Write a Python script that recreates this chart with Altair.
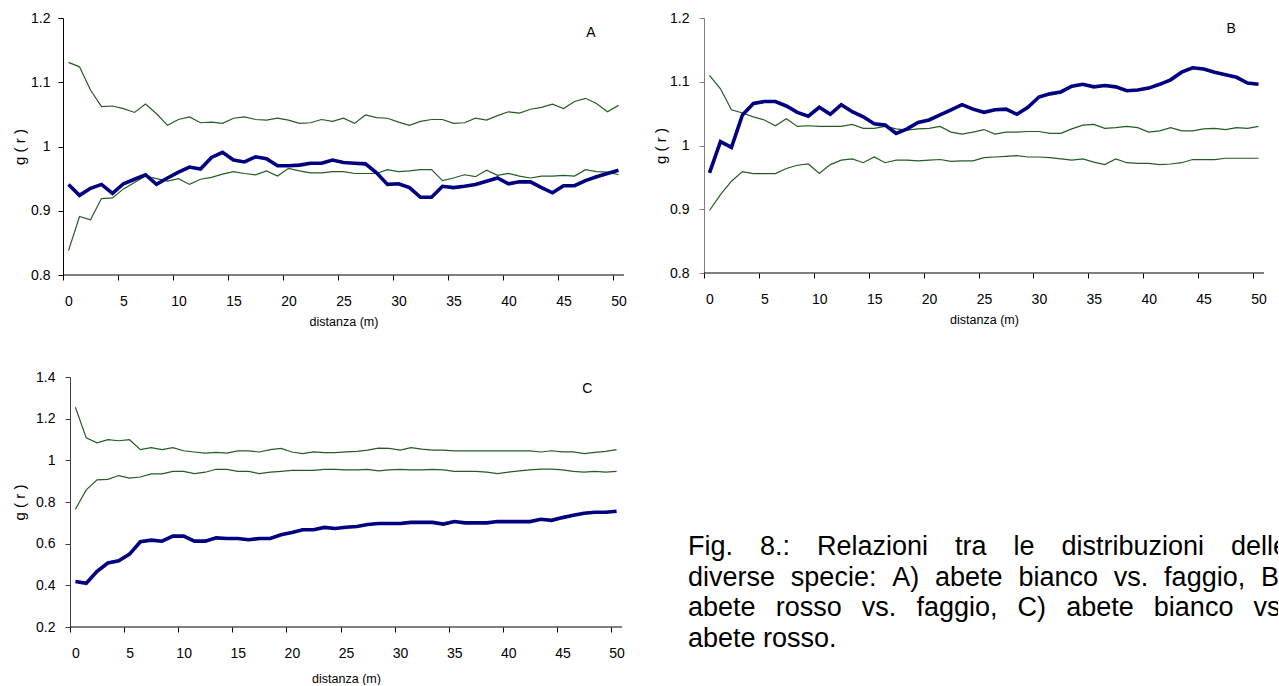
import altair as alt
import pandas as pd

# distance classes (m)
distanza = list(range(51))

# A) abete bianco vs. faggio
a_oss = [0.941, 0.924, 0.935, 0.941, 0.927, 0.942, 0.949, 0.956, 0.941, 0.951,
         0.960, 0.968, 0.965, 0.983, 0.991, 0.979, 0.976, 0.984, 0.981, 0.970,
         0.970, 0.971, 0.974, 0.974, 0.979, 0.975, 0.974, 0.973, 0.959, 0.941,
         0.942, 0.936, 0.921, 0.921, 0.938, 0.936, 0.938, 0.941, 0.946, 0.951,
         0.942, 0.945, 0.945, 0.936, 0.928, 0.939, 0.939, 0.947, 0.953, 0.958, 0.963]
a_sup = [1.131, 1.124, 1.088, 1.062, 1.063, 1.059, 1.053, 1.066, 1.051, 1.033,
         1.042, 1.046, 1.037, 1.038, 1.036, 1.044, 1.046, 1.042, 1.041, 1.044,
         1.041, 1.036, 1.037, 1.042, 1.039, 1.044, 1.036, 1.049, 1.045, 1.044,
         1.038, 1.033, 1.039, 1.042, 1.042, 1.036, 1.037, 1.044, 1.041, 1.048,
         1.054, 1.052, 1.058, 1.061, 1.066, 1.059, 1.070, 1.075, 1.067, 1.054, 1.064]
a_inf = [0.838, 0.891, 0.886, 0.919, 0.920, 0.934, 0.944, 0.954, 0.950, 0.946,
         0.950, 0.941, 0.949, 0.952, 0.957, 0.961, 0.958, 0.956, 0.962, 0.954,
         0.966, 0.962, 0.959, 0.959, 0.961, 0.961, 0.958, 0.958, 0.958, 0.964,
         0.961, 0.962, 0.964, 0.964, 0.947, 0.951, 0.956, 0.953, 0.963, 0.955,
         0.958, 0.954, 0.951, 0.954, 0.954, 0.955, 0.954, 0.964, 0.961, 0.960, 0.956]

# B) abete rosso vs. faggio
b_oss = [0.957, 1.006, 0.997, 1.048, 1.066, 1.069, 1.069, 1.062, 1.052, 1.046,
         1.060, 1.049, 1.064, 1.053, 1.045, 1.034, 1.032, 1.019, 1.026, 1.036,
         1.040, 1.048, 1.056, 1.064, 1.057, 1.052, 1.056, 1.057, 1.049, 1.060,
         1.076, 1.081, 1.084, 1.093, 1.096, 1.092, 1.094, 1.092, 1.086, 1.087,
         1.090, 1.096, 1.103, 1.115, 1.122, 1.120, 1.115, 1.111, 1.107, 1.098, 1.096]
b_sup = [1.110, 1.089, 1.056, 1.051, 1.045, 1.040, 1.031, 1.042, 1.030, 1.031,
         1.030, 1.030, 1.030, 1.033, 1.027, 1.027, 1.030, 1.026, 1.024, 1.026,
         1.027, 1.030, 1.021, 1.018, 1.021, 1.025, 1.018, 1.021, 1.021, 1.022,
         1.022, 1.019, 1.019, 1.026, 1.032, 1.033, 1.027, 1.028, 1.030, 1.028,
         1.021, 1.023, 1.028, 1.023, 1.023, 1.026, 1.027, 1.025, 1.028, 1.027, 1.030]
b_inf = [0.898, 0.923, 0.944, 0.959, 0.956, 0.956, 0.956, 0.964, 0.969, 0.971,
         0.956, 0.970, 0.977, 0.979, 0.973, 0.982, 0.973, 0.977, 0.977, 0.976,
         0.977, 0.978, 0.975, 0.976, 0.976, 0.981, 0.982, 0.983, 0.984, 0.982,
         0.982, 0.981, 0.979, 0.977, 0.979, 0.974, 0.970, 0.979, 0.973, 0.972,
         0.972, 0.970, 0.971, 0.973, 0.978, 0.978, 0.978, 0.980, 0.980, 0.980, 0.980]

# C) abete bianco vs. abete rosso
c_oss = [0.418, 0.410, 0.467, 0.507, 0.518, 0.550, 0.609, 0.617, 0.612, 0.636,
         0.636, 0.612, 0.612, 0.628, 0.625, 0.625, 0.619, 0.625, 0.625, 0.643,
         0.654, 0.667, 0.667, 0.678, 0.673, 0.679, 0.682, 0.692, 0.697, 0.697,
         0.697, 0.702, 0.702, 0.702, 0.694, 0.706, 0.700, 0.700, 0.700, 0.706,
         0.706, 0.706, 0.706, 0.717, 0.712, 0.725, 0.736, 0.746, 0.751, 0.751, 0.756]
c_sup = [1.255, 1.108, 1.084, 1.099, 1.094, 1.099, 1.051, 1.061, 1.051, 1.061,
         1.046, 1.040, 1.035, 1.038, 1.035, 1.045, 1.045, 1.040, 1.051, 1.057,
         1.040, 1.032, 1.041, 1.037, 1.037, 1.041, 1.043, 1.049, 1.059, 1.057,
         1.049, 1.061, 1.054, 1.049, 1.049, 1.045, 1.045, 1.045, 1.045, 1.045,
         1.045, 1.045, 1.045, 1.040, 1.046, 1.041, 1.041, 1.032, 1.038, 1.043, 1.051]
c_inf = [0.765, 0.858, 0.906, 0.909, 0.927, 0.915, 0.920, 0.935, 0.935, 0.947,
         0.947, 0.936, 0.943, 0.957, 0.957, 0.947, 0.947, 0.936, 0.943, 0.947,
         0.952, 0.952, 0.952, 0.957, 0.957, 0.954, 0.954, 0.957, 0.949, 0.954,
         0.957, 0.954, 0.954, 0.957, 0.954, 0.947, 0.947, 0.947, 0.943, 0.936,
         0.943, 0.949, 0.954, 0.958, 0.958, 0.954, 0.947, 0.943, 0.947, 0.943, 0.947]

y_ticks_ab = [0.8, 0.9, 1.0, 1.1, 1.2]
y_ticks_c = [0.2, 0.4, 0.6, 0.8, 1.0, 1.2, 1.4]
x_label_values = list(range(0, 51, 5))

caption_lines = [
    "Fig. 8.: Relazioni tra le distribuzioni delle",
    "diverse specie: A) abete bianco vs. faggio, B)",
    "abete rosso vs. faggio, C) abete bianco vs.",
    "abete rosso.",
]

FONT = "Liberation Sans"
BLUE = "#000080"
GREEN = "#245c24"


def panel(oss, sup, inf, letter, letter_at, y_ticks, width, height,
          y_label_pad, y_title_pad, x_title_pad, y_axis_color, inset=0):
    """One g(r) panel; `inset` pushes the plotted frame right inside the view."""
    step = (width - inset) / 51.0
    x_lo = -0.5 - inset / step
    env = pd.DataFrame({
        "distanza": distanza * 2,
        "g": sup + inf,
        "serie": ["sup"] * 51 + ["inf"] * 51,
    })
    obs = pd.DataFrame({"distanza": distanza, "g": oss})
    tag = pd.DataFrame({"distanza": [letter_at[0]], "g": [letter_at[1]], "t": [letter]})
    base = pd.DataFrame({"x0": [-0.5], "x1": [50.5], "g": [y_ticks[0]]})

    # category-style axis: ticks between classes, labels on the classes
    x = alt.X(
        "distanza:Q",
        scale=alt.Scale(domain=[x_lo, 50.5], nice=False, zero=False),
        axis=alt.Axis(
            values=[v - 0.5 for v in x_label_values],
            labelExpr="format(datum.value + 0.5, 'd')",
            labelOffset=step / 2,
            labelFlush=False,
            labelFont=FONT, labelFontSize=14, labelColor="black",
            labelPadding=14,
            tickSize=5, tickColor="black", domain=False,
            grid=False,
            title="distanza (m)", titleFont=FONT, titleFontSize=12.5,
            titleFontWeight="normal", titleColor="black", titlePadding=x_title_pad,
            titleX=inset + (width - inset) / 2,
        ),
    )
    y = alt.Y(
        "g:Q",
        scale=alt.Scale(domain=[y_ticks[0], y_ticks[-1]], nice=False, zero=False),
        axis=alt.Axis(
            values=y_ticks, format="~g", offset=-inset,
            labelFont=FONT, labelFontSize=14, labelColor="black",
            labelPadding=y_label_pad,
            tickSize=5, tickColor=y_axis_color, domainColor=y_axis_color,
            grid=False,
            title="g ( r )", titleFont=FONT, titleFontSize=15,
            titleFontWeight="normal", titleColor="black", titlePadding=y_title_pad,
        ),
    )
    envelope = alt.Chart(env).mark_line(color=GREEN, strokeWidth=1.2).encode(
        x=x, y=y, detail="serie:N")
    observed = alt.Chart(obs).mark_line(color=BLUE, strokeWidth=3.6).encode(x=x, y=y)
    baseline = alt.Chart(base).mark_rule(color="black", strokeWidth=1).encode(
        x="x0:Q", x2="x1:Q", y="g:Q")
    label = alt.Chart(tag).mark_text(font=FONT, fontSize=14, color="black").encode(
        x="distanza:Q", y="g:Q", text="t:N")
    return alt.layer(envelope, baseline, observed, label).properties(
        width=width, height=height)


panel_a = panel(a_oss, a_sup, a_inf, "A", (47.5, 1.177), y_ticks_ab, 561, 257,
                8, 3, 7, "black")
panel_b = panel(b_oss, b_sup, b_inf, "B", (47.5, 1.183), y_ticks_ab, 560, 255,
                10, 1, 7, "#808080")
panel_c = panel(c_oss, c_sup, c_inf, "C", (47.3, 1.341), y_ticks_c, 559, 250,
                10, 8, 12, "#404040", inset=7)

# justified caption, laid out word by word with Liberation Sans advance widths
ADV = {'F': 611, 'i': 222, 'g': 556, '.': 278, '8': 556, ':': 278, 'R': 722,
       'e': 556, 'l': 222, 'a': 556, 'z': 500, 'o': 556, 'n': 556, 't': 278,
       'r': 333, 'd': 556, 's': 500, 'b': 556, 'u': 556, 'v': 500, 'p': 556,
       'c': 500, 'A': 667, ')': 333, 'f': 278, ',': 278, 'B': 667, 'C': 722,
       ' ': 278}
CAP_SIZE = 27
CAP_LEAD = 30.5
CAP_WIDTH = 600
CAP_X0 = 8
CAP_Y0 = 178


def text_width(s):
    return sum(ADV.get(ch, 556) for ch in s) * CAP_SIZE / 1000.0


rows = []
for k, line in enumerate(caption_lines):
    words = line.split(" ")
    widths = [text_width(w) for w in words]
    last = k == len(caption_lines) - 1
    gap = text_width(" ") if last else (CAP_WIDTH - sum(widths)) / (len(words) - 1)
    pos = CAP_X0
    for w, wd in zip(words, widths):
        rows.append({"parola": w, "px": pos, "py": CAP_Y0 + k * CAP_LEAD})
        pos += wd + gap
caption_df = pd.DataFrame(rows)

caption = alt.Chart(caption_df).mark_text(
    font=FONT, fontSize=CAP_SIZE, color="black", align="left",
    baseline="alphabetic", clip=True,
).encode(
    x=alt.X("px:Q", scale=None, axis=None),
    y=alt.Y("py:Q", scale=None, axis=None),
    text="parola:N",
).properties(width=598, height=300)

top = alt.hconcat(panel_a, panel_b, spacing=26)
bottom = alt.hconcat(panel_c, caption, spacing=55)

chart = alt.vconcat(top, bottom, spacing=42).properties(
    padding={"left": 12, "top": 11, "right": 0, "bottom": 0},
    background="white",
).configure_view(stroke=None)

chart.save("out.html", embed_options={"renderer": "svg", "actions": False})
